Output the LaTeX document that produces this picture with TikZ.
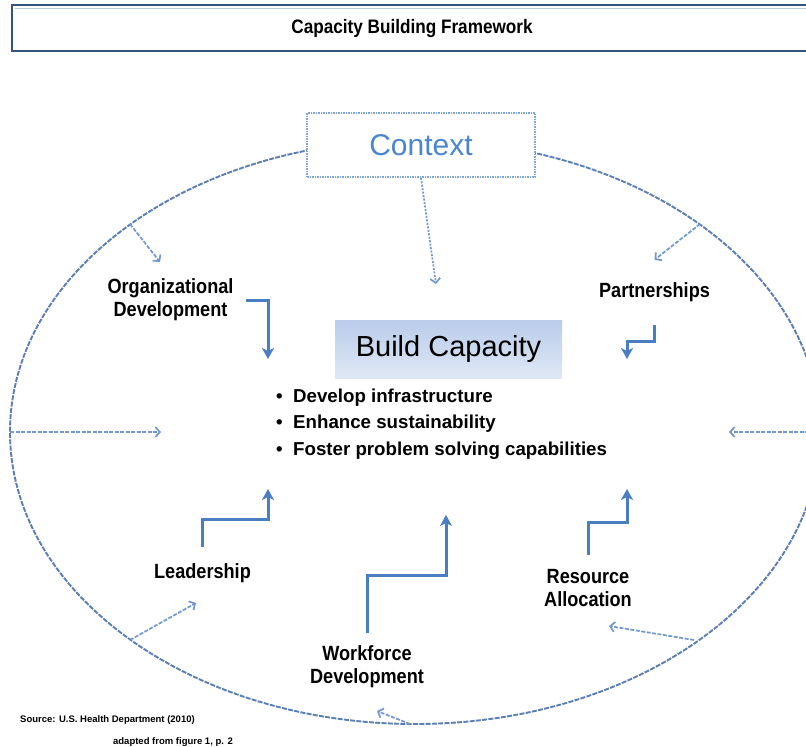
\documentclass[tikz,border=0pt]{standalone}
\usepackage{fontspec}
\setmainfont{Liberation Sans}
\newfontfamily\narrowfont[FakeStretch=0.88]{Liberation Sans}
\usetikzlibrary{arrows.meta}
\definecolor{titleblue}{HTML}{34547F}
\definecolor{titleinner}{HTML}{B7C9E3}
\definecolor{ellblue}{HTML}{5A7FB5}
\definecolor{ctxborder}{HTML}{7FA4D6}
\definecolor{ctxtext}{HTML}{4A86D0}
\definecolor{arrowblue}{HTML}{4A7EC2}
\definecolor{dashblue}{HTML}{7099D0}
\definecolor{buildtop}{HTML}{B9CCEA}
\definecolor{buildbot}{HTML}{DFE8F5}
\begin{document}
\begin{tikzpicture}[x=1pt,y=-1pt,
  lbl/.style={inner sep=0pt, align=center, font=\narrowfont\fontsize{20.6}{23}\selectfont\bfseries},
  bul/.style={inner sep=0pt, anchor=base west, font=\fontsize{18.7}{22}\selectfont\bfseries},
  solidarrow/.style={draw=arrowblue, line width=3pt, -{Stealth[length=11pt,width=12pt,inset=3pt]}},
  dasharrow/.style={draw=dashblue, line width=1.7pt, dash pattern=on 4pt off 1.5pt,
    -{Straight Barb[length=4.5pt,width=10pt,line width=1.7pt]}},
  srcfont/.style={inner sep=0pt, font=\fontsize{9.5}{11}\selectfont\bfseries}
]
\useasboundingbox (0,0) rectangle (806,747);
\clip (0,0) rectangle (806,747);
\fill[white] (0,0) rectangle (806,747);

% title bar
\node[draw=titleblue, line width=2.5pt, minimum width=800pt, minimum height=46pt,
      inner sep=0pt, font=\narrowfont\fontsize{19.5}{22}\selectfont\bfseries] (title) at (412,28)
      {Capacity Building Framework};
\draw[titleinner, line width=0.8pt] (14.5,8) -- (814,8);

% outer ellipse
\draw[ellblue, line width=1.9pt, dash pattern=on 5pt off 1.3pt]
  (415,432) ellipse [x radius=405, y radius=292];

% context box
\node[draw=ctxborder, line width=1.6pt, dash pattern=on 1.5pt off 1pt, fill=white,
      minimum width=228pt, minimum height=64pt, inner sep=0pt, text=ctxtext,
      font=\fontsize{30}{36}\selectfont] (context) at (421,145) {Context};

% build capacity box
\node[top color=buildtop, bottom color=buildbot, minimum width=227pt, minimum height=58pt,
      inner sep=0pt, font=\fontsize{29}{34}\selectfont] (build) at (448.5,349) {Build Capacity};

% bullets
\node[bul] (b1) at (276,402) {\makebox[17pt][l]{\textbullet}Develop infrastructure};
\node[bul] (b2) at (276,428) {\makebox[17pt][l]{\textbullet}Enhance sustainability};
\node[bul] (b3) at (276,455) {\makebox[17pt][l]{\textbullet}Foster problem solving capabilities};

% labels
\node[lbl, minimum width=151pt, minimum height=66pt] (org) at (170.5,300) {Organizational\\Development};
\node[lbl, minimum width=135pt, minimum height=65pt] (part) at (654.5,292.5) {Partnerships};
\node[lbl, minimum width=129pt, minimum height=52pt] (lead) at (202.5,573) {Leadership};
\node[lbl, minimum width=150pt, minimum height=68pt] (wf) at (367,667) {Workforce\\Development};
\node[lbl, minimum width=138pt, minimum height=67pt] (res) at (588,588.5) {Resource\\Allocation};

% coordinates
\coordinate (orgtip) at (268,359);
\coordinate (partbend) at (627,341);
\coordinate (parttip) at (627,359);
\coordinate (leadbend) at (268,519);
\coordinate (leadtip) at (268,489);
\coordinate (wfbend) at (446,575);
\coordinate (wftip) at (446,515);
\coordinate (resbend) at (627,522);
\coordinate (restip) at (627,489);
\coordinate (ctxtip) at (436,284);

\coordinate (eorg) at (130,224);
\coordinate (eorgtip) at (160,262);
\coordinate (epart) at (700,224);
\coordinate (eleft) at (10,432);
\coordinate (elefttip) at (161,432);
\coordinate (eright) at (820,432);
\coordinate (erighttip) at (729,432);
\coordinate (elead) at (130,640);
\coordinate (eleadtip) at (196,603);
\coordinate (ewf) at (410,724);
\coordinate (ewftip) at (377,711);
\coordinate (eres) at (694,640);
\coordinate (erestip) at (609,626);

% solid elbow arrows
\draw[solidarrow] (org.east) -| (orgtip);
\draw[solidarrow] (part.south) |- (partbend) -- (parttip);
\draw[solidarrow] (lead.north) |- (leadbend) -- (leadtip);
\draw[solidarrow] (wf.north) |- (wfbend) -- (wftip);
\draw[solidarrow] (res.north) |- (resbend) -- (restip);

% dashed arrows
\draw[dasharrow, dash pattern=on 2pt off 1.5pt] (context.south) -- (ctxtip);
\draw[dasharrow] (eorg) -- (eorgtip);
\draw[dasharrow] (epart) -- (part.north);
\draw[dasharrow] (eleft) -- (elefttip);
\draw[dasharrow] (eright) -- (erighttip);
\draw[dasharrow] (elead) -- (eleadtip);
\draw[dasharrow] (ewf) -- (ewftip);
\draw[dasharrow] (eres) -- (erestip);

% source
\node[srcfont, anchor=base west] (src1) at (20,722) {Source: U.S. Health Department (2010)};
\node[srcfont, anchor=base east] (src2) at (233,744) {adapted from figure 1, p. 2};
\end{tikzpicture}
\end{document}
